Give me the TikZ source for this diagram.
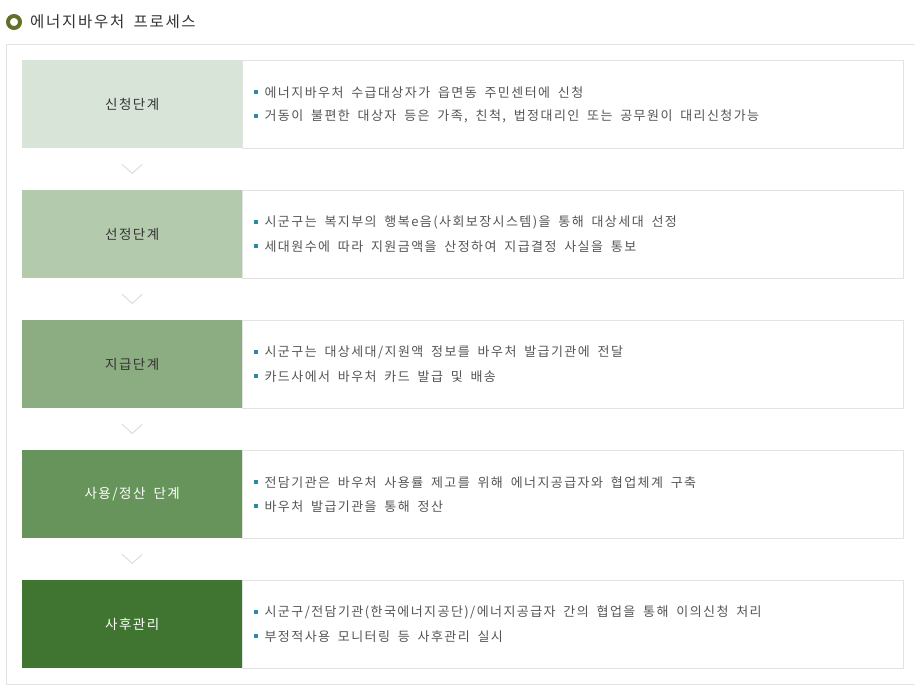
\documentclass[tikz,border=0pt]{standalone}
\usepackage{fontspec}
\setmainfont{Noto Sans CJK KR}[LetterSpace=11,WordSpace=1.8]
\usetikzlibrary{calc}
\definecolor{frame}{HTML}{E3E3E3}
\definecolor{chev}{HTML}{DDDDDD}
\definecolor{bul}{HTML}{2A8AA3}
\definecolor{txt}{HTML}{555555}
\definecolor{dark}{HTML}{333333}
\definecolor{cA}{HTML}{D9E4D8}
\definecolor{cB}{HTML}{B3CAAD}
\definecolor{cC}{HTML}{8CAD82}
\definecolor{cD}{HTML}{67945A}
\definecolor{cE}{HTML}{3F7530}
\definecolor{ring}{HTML}{62702A}
\tikzset{
  stage/.style={fill=#1, draw=none, minimum width=220pt, minimum height=88pt, inner sep=0pt, anchor=north west, font=\fontsize{13.5pt}{16pt}\selectfont},
  detail/.style={draw=frame, line width=1pt, fill=white, minimum width=661pt, minimum height=88pt, inner sep=0pt, anchor=north west},
  item/.style={anchor=west, inner sep=0pt, text=txt, font=\fontsize{13pt}{15pt}\selectfont},
  bulsq/.style={fill=bul, draw=none, minimum size=4pt, inner sep=0pt},
  chevron/.style={draw=chev, line width=1pt},
  framel/.style={draw=frame, line width=1.2pt}
}
\begin{document}
\begin{tikzpicture}[x=1pt,y=-1pt]
\useasboundingbox (0,0) rectangle (915,691);
% title
\node[circle, draw=ring, line width=4pt, minimum size=12pt, inner sep=0pt] (icon) at (14,22) {};
\node[anchor=west, inner sep=0pt, text=dark, font=\fontsize{15.5pt}{18pt}\selectfont] (title) at (30,21.5) {에너지바우처 프로세스};
% outer frame
\coordinate (ftl) at (6.5,44.5);
\coordinate (ftr) at (915,44.5);
\coordinate (fbl) at (6.5,684.5);
\coordinate (fbr) at (915,684.5);
\draw[framel] (ftr) -- (ftl) -- (fbl) -- (fbr);
% stages
\foreach \i/\c/\tc/\lab/\la/\lb in {
  1/cA/dark/{신청단계}/{에너지바우처 수급대상자가 읍면동 주민센터에 신청}/{거동이 불편한 대상자 등은 가족{,} 친척{,} 법정대리인 또는 공무원이 대리신청가능},
  2/cB/dark/{선정단계}/{시군구는 복지부의 행복e음(사회보장시스템)을 통해 대상세대 선정}/{세대원수에 따라 지원금액을 산정하여 지급결정 사실을 통보},
  3/cC/dark/{지급단계}/{시군구는 대상세대/지원액 정보를 바우처 발급기관에 전달}/{카드사에서 바우처 카드 발급 및 배송},
  4/cD/white/{사용/정산 단계}/{전담기관은 바우처 사용률 제고를 위해 에너지공급자와 협업체계 구축}/{바우처 발급기관을 통해 정산},
  5/cE/white/{사후관리}/{시군구/전담기관(한국에너지공단)/에너지공급자 간의 협업을 통해 이의신청 처리}/{부정적사용 모니터링 등 사후관리 실시}}
{
  \pgfmathsetmacro{\yy}{60+130*(\i-1)}
  \node[detail] (d\i) at (242,\yy) {};
  \node[stage=\c, text=\tc] (s\i) at (22,\yy) {\lab};
  \node[bulsq] (b\i a) at ($(s\i.east)+(13.5,-12.5)$) {};
  \node[bulsq] (b\i b) at ($(s\i.east)+(13.5,11.5)$) {};
  \node[item] (t\i a) at ($(s\i.east)+(22,-12)$) {\la};
  \node[item] (t\i b) at ($(s\i.east)+(22,12)$) {\lb};
}
% chevrons
\foreach \i in {1,2,3,4}{
  \draw[chevron] ($(s\i.south)+(-10,16)$) -- ($(s\i.south)+(0,25)$) -- ($(s\i.south)+(10,16)$);
}
\end{tikzpicture}
\end{document}
